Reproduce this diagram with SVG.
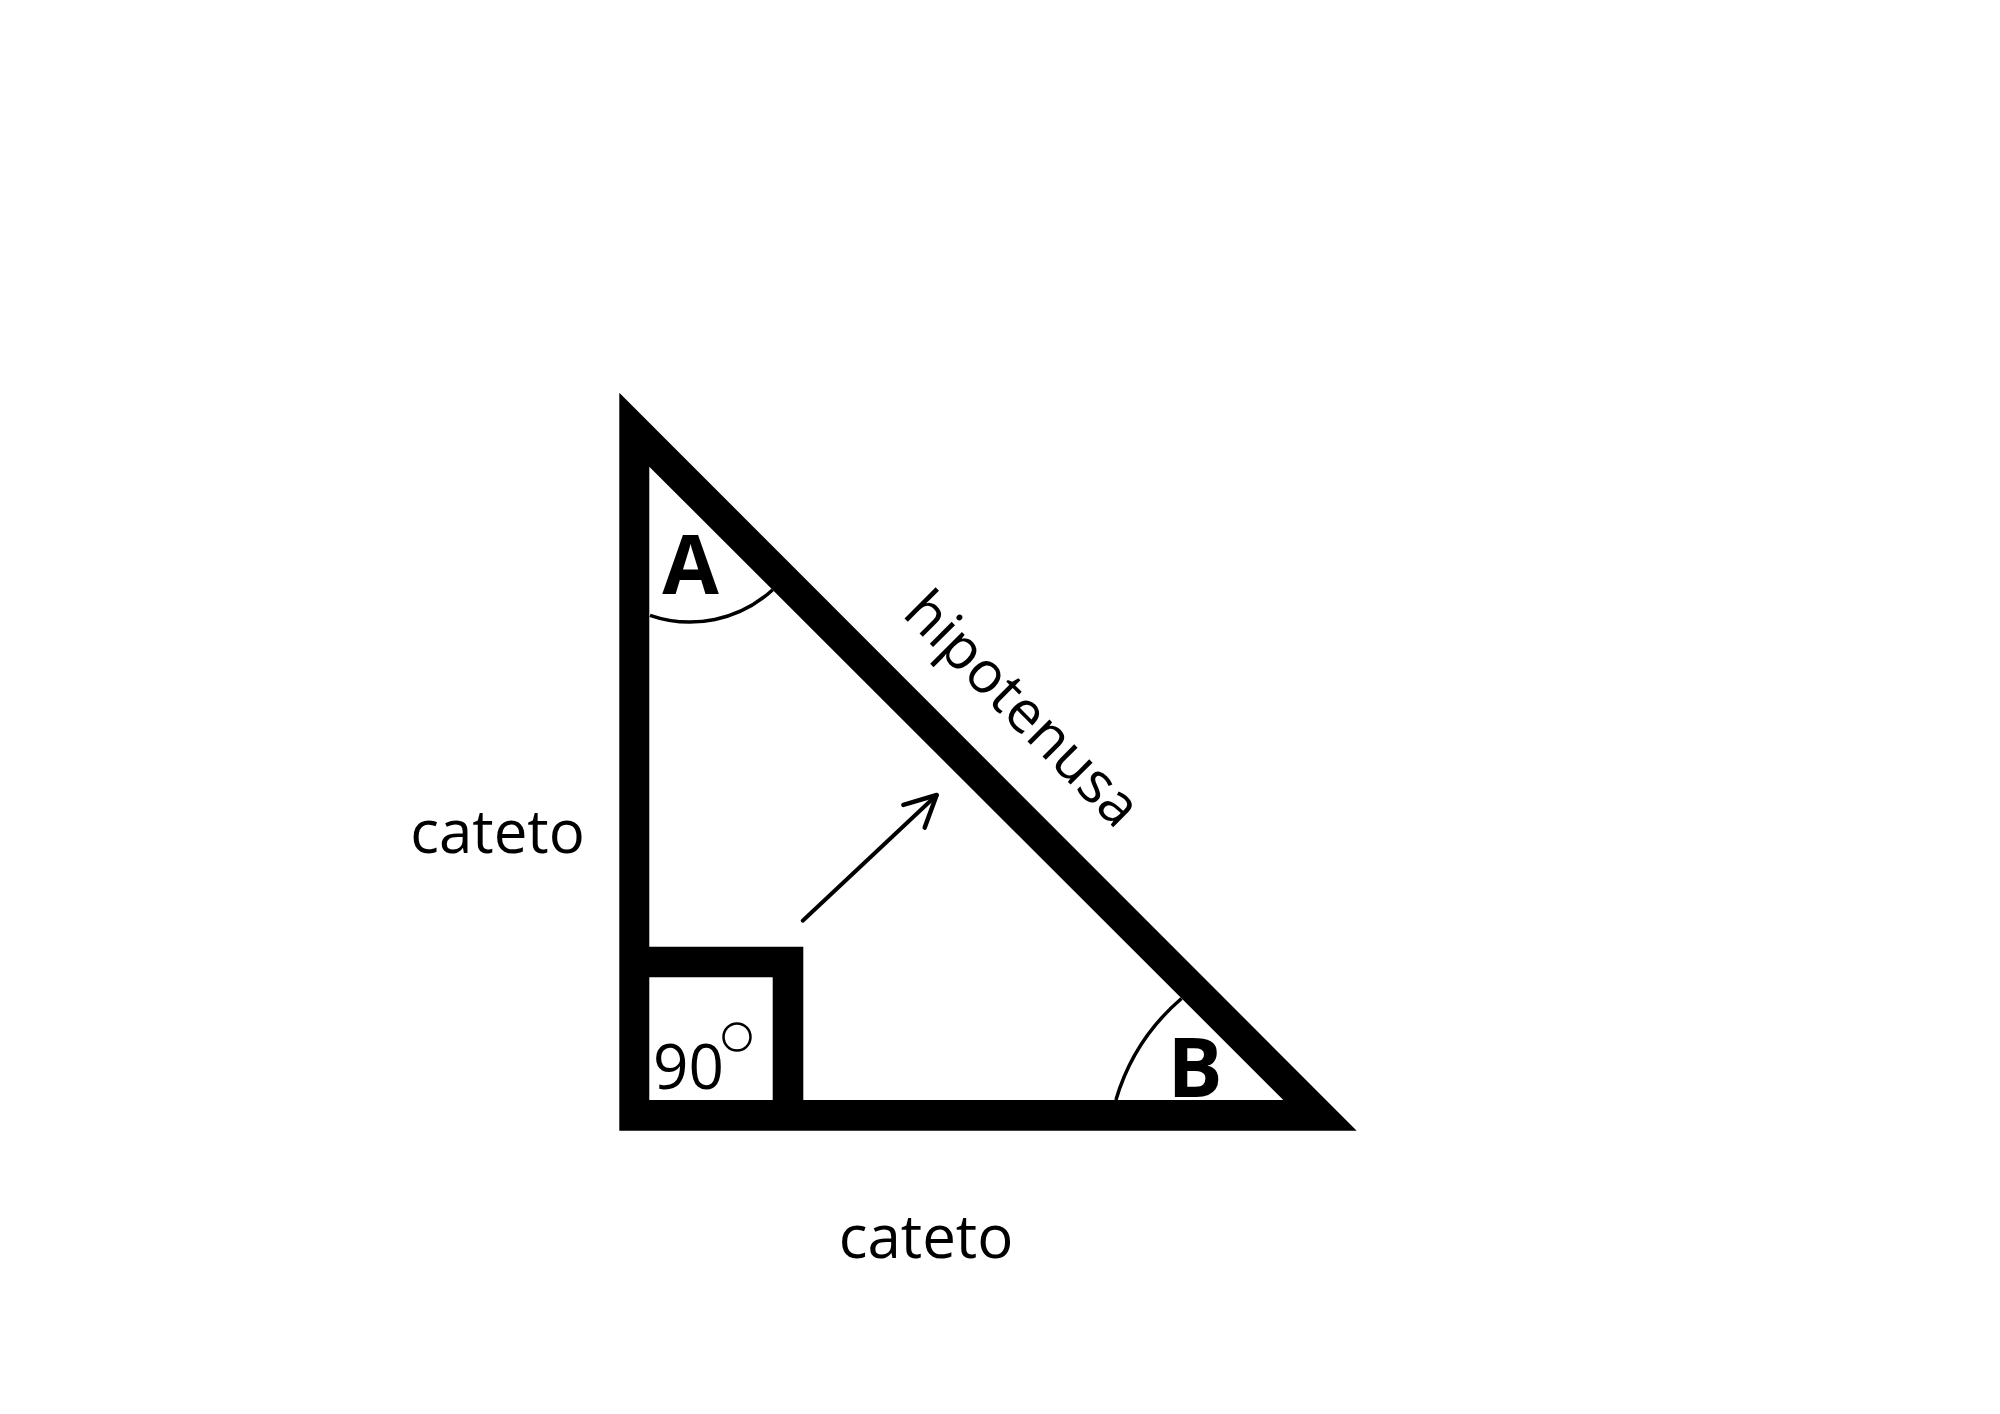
<svg xmlns="http://www.w3.org/2000/svg" width="2000" height="1414" viewBox="0 0 2000 1414">
<defs>
<style>
.lbl{font-family:"Open Sans","Noto Sans","Liberation Sans",sans-serif;font-size:58px;fill:#000}
.leg{font-size:60px}
.big{font-family:"Open Sans","Noto Sans","Liberation Sans",sans-serif;font-size:82px;font-weight:bold;fill:#000}
.arc{fill:none;stroke:#000;stroke-width:3.5}
</style>
<marker id="head" markerUnits="userSpaceOnUse" markerWidth="40" markerHeight="40" viewBox="-32 -18 36 36" refX="0" refY="0" orient="auto" overflow="visible">
<path d="M-28,-14 L0,0 L-28,14" fill="none" stroke="#000" stroke-width="4" stroke-linecap="round" stroke-linejoin="round"/>
</marker>
</defs>
<rect width="2000" height="1414" fill="#fff"/>
<g id="triangle">
<path d="M619.3,392.7 L619.3,1130.7 L1356.7,1130.7 Z M649.3,466.7 L649.3,1100 L1283.3,1100 Z" fill="#000" fill-rule="evenodd"/>
<path d="M630,946.7 H803.3 V1110 H772.7 V977.3 H630 Z" fill="#000"/>
</g>
<g id="angle-A">
<path class="arc" d="M650,615.3 A122,122 0 0 0 772.7,589.7"/>
<text class="big" x="690.5" y="594" text-anchor="middle">A</text>
</g>
<g id="angle-B">
<path class="arc" d="M1115.9,1100 A212.7,212.7 0 0 1 1181.5,998.5"/>
<text class="big" x="1195" y="1096.7" text-anchor="middle">B</text>
</g>
<g id="right-angle">
<text class="lbl" x="653" y="1089" style="font-size:62px">90</text>
<circle cx="737" cy="1037" r="13.5" fill="none" stroke="#000" stroke-width="2.5"/>
</g>
<g id="labels">
<text class="lbl leg" x="497.5" y="853" text-anchor="middle">cateto</text>
<text class="lbl leg" x="926" y="1258" text-anchor="middle">cateto</text>
<text class="lbl" x="901" y="615" transform="rotate(45 901 615)">hipotenusa</text>
</g>
<g id="connectors">
<line x1="802.7" y1="920.7" x2="936.7" y2="795" stroke="#000" stroke-width="4" stroke-linecap="round" marker-end="url(#head)"/>
</g>
</svg>
